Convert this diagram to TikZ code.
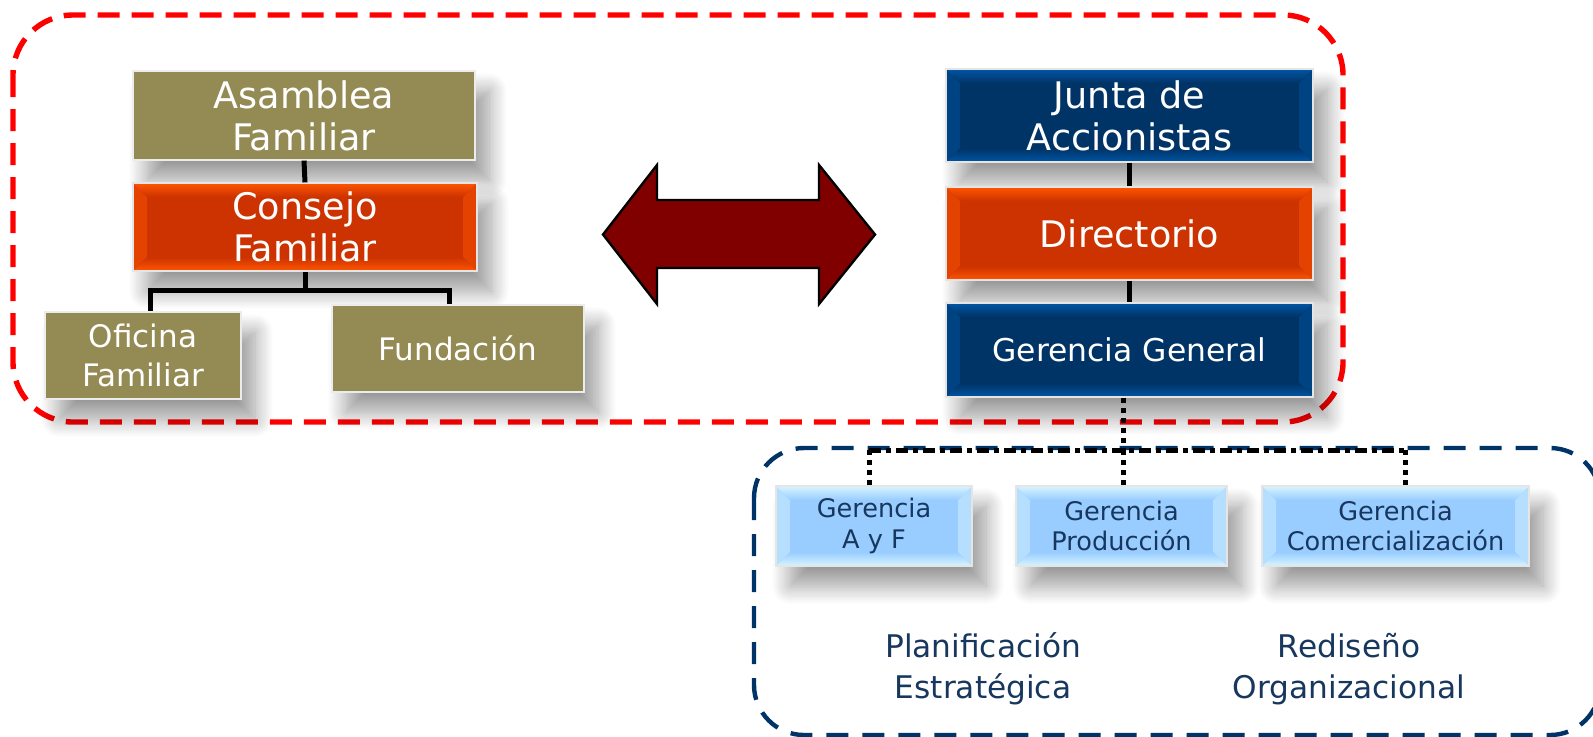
\documentclass[tikz,border=0pt]{standalone}
\usepackage{fontspec}
\setmainfont{DejaVu Sans}
\usetikzlibrary{shadows.blur}

\definecolor{famolive}{RGB}{148,138,84}
\definecolor{redorange}{RGB}{204,51,0}
\definecolor{redorangehi}{RGB}{255,85,0}
\definecolor{navybase}{RGB}{0,51,102}
\definecolor{navyhi}{RGB}{0,86,165}
\definecolor{skybase}{RGB}{153,204,255}
\definecolor{skyhi}{RGB}{215,245,255}
\definecolor{navytext}{RGB}{23,55,94}
\definecolor{framered}{RGB}{255,0,0}
\definecolor{framenavy}{RGB}{0,51,102}
\definecolor{arrowred}{RGB}{128,0,0}

\newcommand{\bigtxt}{\fontsize{18.3}{21}\selectfont}
\newcommand{\midtxt}{\fontsize{15.5}{19.5}\selectfont}
\newcommand{\smalltxt}{\fontsize{12.8}{15.3}\selectfont}
\newcommand{\plantxt}{\fontsize{15.6}{20.5}\selectfont}

\tikzset{
  bevel/.style 2 args={fill=#2, path picture={
    \fill[#1!45!#2] (path picture bounding box.north west)
      -- ([shift={(7pt,-7pt)}]path picture bounding box.north west)
      -- ([shift={(7pt,7pt)}]path picture bounding box.south west)
      -- (path picture bounding box.south west) -- cycle;
    \fill[#1!45!#2] (path picture bounding box.north east)
      -- ([shift={(-7pt,-7pt)}]path picture bounding box.north east)
      -- ([shift={(-7pt,7pt)}]path picture bounding box.south east)
      -- (path picture bounding box.south east) -- cycle;
    \shade[top color=#1, bottom color=#2] (path picture bounding box.north west)
      -- (path picture bounding box.north east)
      -- ([shift={(-7pt,-7pt)}]path picture bounding box.north east)
      -- ([shift={(7pt,-7pt)}]path picture bounding box.north west) -- cycle;
    \shade[top color=#2, bottom color=#1] (path picture bounding box.south west)
      -- (path picture bounding box.south east)
      -- ([shift={(-7pt,7pt)}]path picture bounding box.south east)
      -- ([shift={(7pt,7pt)}]path picture bounding box.south west) -- cycle;
  }},
  boxshadow/.style={blur shadow={shadow xshift=7pt,shadow yshift=-10pt,
    shadow blur radius=9pt,shadow blur steps=16,shadow opacity=40}}
}

\begin{document}
\begin{tikzpicture}[x=0.5pt,y=-0.5pt,
    famibox/.style={fill=famolive,draw=white!85!gray,line width=.6pt,
      text=white,align=center,inner sep=0pt,boxshadow},
    redbox/.style={bevel={redorangehi}{redorange},draw=white!80!gray,
      line width=.6pt,text=white,align=center,inner sep=0pt,boxshadow},
    navybox/.style={bevel={navyhi}{navybase},draw=white!80!gray,
      line width=.6pt,text=white,align=center,inner sep=0pt,boxshadow},
    skybox/.style={bevel={skyhi}{skybase},draw=white!80!gray,
      line width=.8pt,text=navytext,align=center,inner sep=0pt,
      font=\smalltxt,minimum width=#1,minimum height=40pt,boxshadow},
    link/.style={line width=2.5pt},
    dots/.style={line width=2.5pt,dash pattern=on 2.5pt off 2.5pt},
    dashdots/.style={line width=2.5pt,
      dash pattern=on 6pt off 2.5pt on 2.5pt off 2.5pt},
    plantext/.style={text=navytext,align=center,font=\plantxt}]

  \useasboundingbox (0,0) rectangle (1593,736);

  % dashed frames
  \draw[framered,line width=2.7pt,dash pattern=on 11pt off 6pt,
    rounded corners=30pt] (13,15) rectangle (1343,422);
  \draw[framenavy,line width=2.2pt,dash pattern=on 11pt off 7pt,
    rounded corners=25pt] (754,448) rectangle (1600,735);

  % family side
  \node[famibox,font=\bigtxt,minimum width=171pt,minimum height=44.5pt]
    (asamblea) at (304,115.5) {Asamblea\\Familiar};
  \node[redbox,font=\bigtxt,minimum width=172pt,minimum height=44pt]
    (consejo) at (305,227) {Consejo\\Familiar};
  \node[famibox,font=\midtxt,minimum width=98pt,minimum height=43.5pt]
    (oficina) at (143,355.5) {Oficina\\Familiar};
  \node[famibox,font=\midtxt,minimum width=126pt,minimum height=43.5pt]
    (fundacion) at (458,348.5) {Fundación};

  \draw[link] (asamblea.south) -- (consejo.north);
  \draw[link] (consejo.south) -- ++(0,19) coordinate (split)
    -| ([xshift=3.5pt]oficina.north);
  \draw[link] (split) -| ([xshift=-4.5pt]fundacion.north);

  % double arrow
  \draw[fill=arrowred,line width=1.2pt,line join=miter]
    (603,234.5) -- (657,165) -- (657,200) -- (819,200) -- (819,165)
    -- (875,234.5) -- (819,304) -- (819,268) -- (657,268) -- (657,304)
    -- cycle;

  % company side
  \node[navybox,font=\bigtxt,minimum width=183.5pt,minimum height=46.5pt]
    (junta) at (1129.5,115.5) {Junta de\\Accionistas};
  \node[redbox,font=\bigtxt,minimum width=183.5pt,minimum height=46.5pt]
    (directorio) at (1129.5,233.5) {Directorio};
  \node[navybox,font=\fontsize{15.7}{19}\selectfont,minimum width=183.5pt,
    minimum height=47pt] (gerencia) at (1129.5,350) {Gerencia General};

  \draw[link] (junta.south) -- (directorio.north);
  \draw[link] (directorio.south) -- (gerencia.north);

  % managements
  \node[skybox=98pt] (gaf) at (874,526) {Gerencia\\A y F};
  \node[skybox=105.5pt] (gprod) at (1121.5,526) {Gerencia\\Producción};
  \node[skybox=133.5pt] (gcom) at (1395.5,526) {Gerencia\\Comercialización};

  \coordinate (hub) at (1123,450);
  \coordinate (hubl) at (869,450);
  \coordinate (hubr) at (1405,450);
  \draw[dots] (gerencia.south -| hub) -- (hub);
  \draw[dashdots] (hubl) -- (hubr);
  \draw[dots] (hubl) -- (hubl |- gaf.north);
  \draw[dots] (hub) -- (hub |- gprod.north);
  \draw[dots] (hubr) -- (hubr |- gcom.north);

  \node[plantext] (planif) at (983,669) {Planificación\\Estratégica};
  \node[plantext] (rediseno) at (1349,669) {Rediseño\\Organizacional};

\end{tikzpicture}
\end{document}
